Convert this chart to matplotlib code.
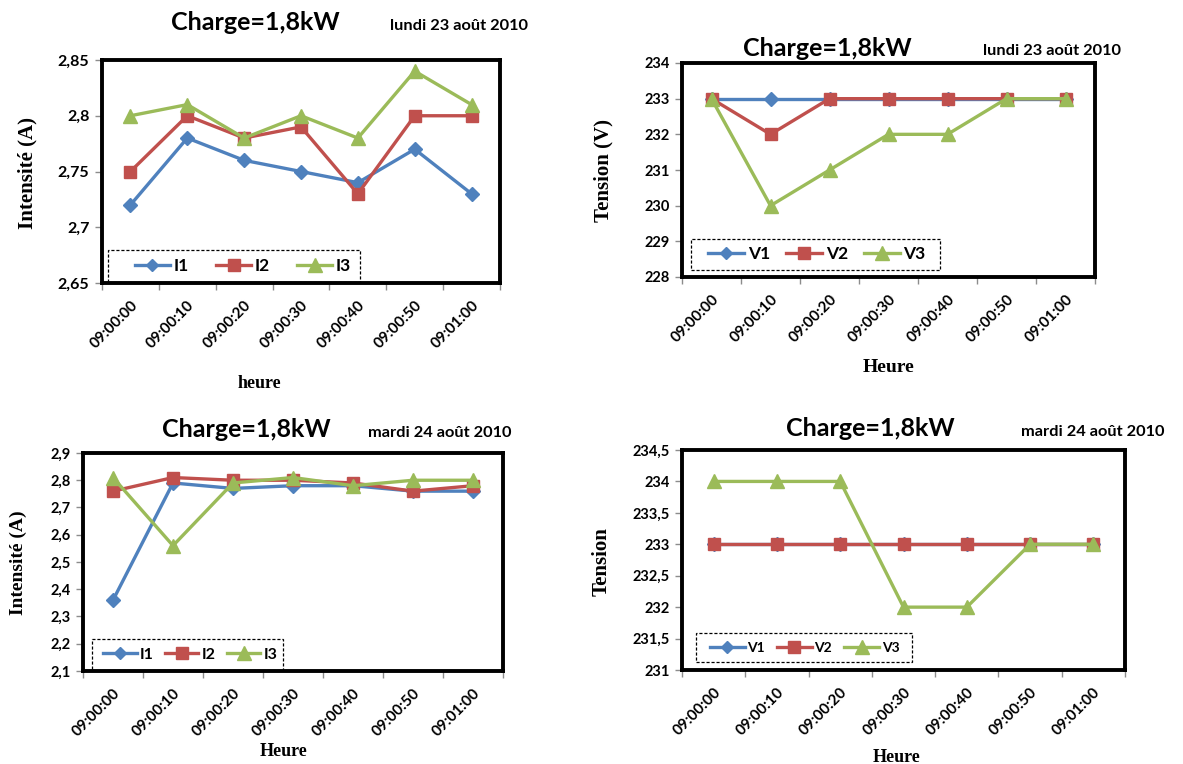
import numpy as np
import matplotlib
matplotlib.use("Agg")
import matplotlib.pyplot as plt
from matplotlib.patches import Rectangle
from matplotlib.ticker import FixedLocator, FuncFormatter
from matplotlib.transforms import ScaledTranslation

# ---------------------------------------------------------------- data
times = ["09:00:00", "09:00:10", "09:00:20", "09:00:30", "09:00:40", "09:00:50", "09:01:00"]

# lundi 23 août 2010
i1_lundi = [2.72, 2.78, 2.76, 2.75, 2.74, 2.77, 2.73]
i2_lundi = [2.75, 2.80, 2.78, 2.79, 2.73, 2.80, 2.80]
i3_lundi = [2.80, 2.81, 2.78, 2.80, 2.78, 2.84, 2.81]
v1_lundi = [233, 233, 233, 233, 233, 233, 233]
v2_lundi = [233, 232, 233, 233, 233, 233, 233]
v3_lundi = [233, 230, 231, 232, 232, 233, 233]

# mardi 24 août 2010
i1_mardi = [2.36, 2.79, 2.77, 2.78, 2.78, 2.76, 2.76]
i2_mardi = [2.76, 2.81, 2.80, 2.80, 2.79, 2.76, 2.78]
i3_mardi = [2.81, 2.56, 2.79, 2.81, 2.78, 2.80, 2.80]
v1_mardi = [233, 233, 233, 233, 233, 233, 233]
v2_mardi = [233, 233, 233, 233, 233, 233, 233]
v3_mardi = [234, 234, 234, 232, 232, 233, 233]

title_text = "Charge=1,8kW"
dates = ["lundi 23 août 2010", "lundi 23 août 2010", "mardi 24 août 2010", "mardi 24 août 2010"]

# ---------------------------------------------------------------- style
W, H = 1183, 764
BLUE, RED, GREEN = "#4F81BD", "#C0504D", "#9BBB59"
SANS = "Lato"
SERIF = "Liberation Serif"

fig = plt.figure(figsize=(W / 100, H / 100), dpi=100)
fig.patch.set_facecolor("white")


def px_axes(left, top, right, bottom):
    return fig.add_axes([left / W, 1 - bottom / H, (right - left) / W, (bottom - top) / H])


def fmt_comma(v, _pos=None):
    s = f"{v:.3f}".rstrip("0").rstrip(".")
    return s.replace(".", ",")


def draw_panel(ax, series, names, ylim, ystep, ytick_size, leg_box, leg_x, leg_size,
               hlen, cspace, xlab_shift=0.0, xlab_size=11):
    x = np.arange(len(times))
    markers = ["D", "s", "^"]
    msizes = [6.8, 9.2, 10.5]
    colors = [BLUE, RED, GREEN]
    for k, (vals, name) in enumerate(zip(series, names)):
        ax.plot(x, vals, color=colors[k], lw=2.4, marker=markers[k], ms=msizes[k],
                mec=colors[k], mfc=colors[k], label=name, zorder=3 + k, clip_on=False)
    ax.set_xlim(-0.5, len(times) - 0.5)
    ax.set_ylim(*ylim)
    yt = np.arange(ylim[0], ylim[1] + ystep / 2, ystep)
    ax.yaxis.set_major_locator(FixedLocator(yt))
    ax.yaxis.set_major_formatter(FuncFormatter(fmt_comma))
    # category boundaries get tick marks, centres get the labels
    ax.set_xticks(np.arange(-0.5, len(times), 1.0))
    ax.set_xticklabels([])
    ax.set_xticks(x, minor=True)
    ax.set_xticklabels(times, minor=True, rotation=45, ha="right", va="top",
                       rotation_mode="anchor", fontfamily=SANS, fontweight="bold",
                       fontsize=xlab_size)
    shift = ScaledTranslation(xlab_shift / 100, 0, fig.dpi_scale_trans)
    for lab in ax.get_xticklabels(minor=True):
        lab.set_transform(lab.get_transform() + shift)
    ax.tick_params(axis="x", which="major", length=5, width=1, color="#8c8c8c", direction="out")
    ax.tick_params(axis="x", which="minor", length=0, pad=11)
    ax.tick_params(axis="y", which="major", length=5, width=1, color="#8c8c8c",
                   direction="out", pad=4)
    for lab in ax.get_yticklabels():
        lab.set_fontfamily(SANS)
        lab.set_fontweight("bold")
        lab.set_fontsize(ytick_size)
    for sp in ax.spines.values():
        sp.set_color("black")
        sp.set_linewidth(2.8)
    # dashed legend frame
    x0, y0, x1, y1 = leg_box
    ax.add_patch(Rectangle((x0, y0), x1 - x0, y1 - y0, transform=ax.transAxes,
                           fill=False, ls=(0, (2.5, 1.5)), lw=0.9, ec="black",
                           zorder=10, clip_on=False))
    ax.legend(loc="center left", bbox_to_anchor=(leg_x, (y0 + y1) / 2), ncol=3,
              frameon=False, borderpad=0, borderaxespad=0, handlelength=hlen,
              handletextpad=0.2, columnspacing=cspace, markerscale=0.95,
              prop={"family": SANS, "weight": "bold", "size": leg_size})


def fig_text(xp, yp, s, **kw):
    fig.text(xp / W, 1 - yp / H, s, **kw)


# ---- top-left : courant, lundi
ax1 = px_axes(102, 60, 500, 283)
draw_panel(ax1, [i1_lundi, i2_lundi, i3_lundi], ["I1", "I2", "I3"], (2.65, 2.85), 0.05, 11.5,
           (0.015, 0.005, 0.648, 0.148), 0.083, 12.5, 2.0, 1.6)

# ---- top-right : tension, lundi
ax2 = px_axes(682, 63, 1095, 277)
draw_panel(ax2, [v1_lundi, v2_lundi, v3_lundi], ["V1", "V2", "V3"], (228, 234), 1, 10.5,
           (0.022, 0.033, 0.625, 0.178), 0.063, 12.5, 2.1, 0.9)

# ---- bottom-left : courant, mardi
ax3 = px_axes(83, 453, 503, 671)
draw_panel(ax3, [i1_mardi, i2_mardi, i3_mardi], ["I1", "I2", "I3"], (2.1, 2.9), 0.1, 10.5,
           (0.021, 0.005, 0.476, 0.147), 0.048, 11.5, 2.1, 0.7, xlab_shift=30)

# ---- bottom-right : tension, mardi
ax4 = px_axes(682, 450, 1125, 670)
draw_panel(ax4, [v1_mardi, v2_mardi, v3_mardi], ["V1", "V2", "V3"], (231, 234.5), 0.5, 10.5,
           (0.032, 0.036, 0.519, 0.168), 0.063, 10, 2.5, 0.86, xlab_shift=14)

# titles and dates
title_pos = [(255, 30), (827, 56), (246, 437), (870, 436)]
date_pos = [(459, 30), (1052, 55), (440, 437), (1093, 436)]
for (tx, ty), (dx, dy), d in zip(title_pos, date_pos, dates):
    fig_text(tx, ty, title_text, ha="center", va="baseline", fontfamily=SANS,
             fontweight="bold", fontsize=18)
    fig_text(dx, dy, d, ha="center", va="baseline", fontfamily=SANS,
             fontweight="bold", fontsize=11.8)

# axis titles
ylabels = [("Intensité (A)", 27, 173, 15), ("Tension (V)", 603, 170, 15),
           ("Intensité (A)", 18, 563, 14), ("Tension", 602, 562, 15)]
for s, xp, yp, fs in ylabels:
    fig_text(xp, yp, s, ha="center", va="center", rotation=90, fontfamily=SERIF,
             fontweight="bold", fontsize=fs)

xlabels = [("heure", 259, 383, 13), ("Heure", 889, 367, 14),
           ("Heure", 284, 752, 13), ("Heure", 897, 757, 13)]
for s, xp, yp, fs in xlabels:
    fig_text(xp, yp, s, ha="center", va="center", fontfamily=SERIF,
             fontweight="bold", fontsize=fs)

fig.savefig("out.png", dpi=100, facecolor="white")
